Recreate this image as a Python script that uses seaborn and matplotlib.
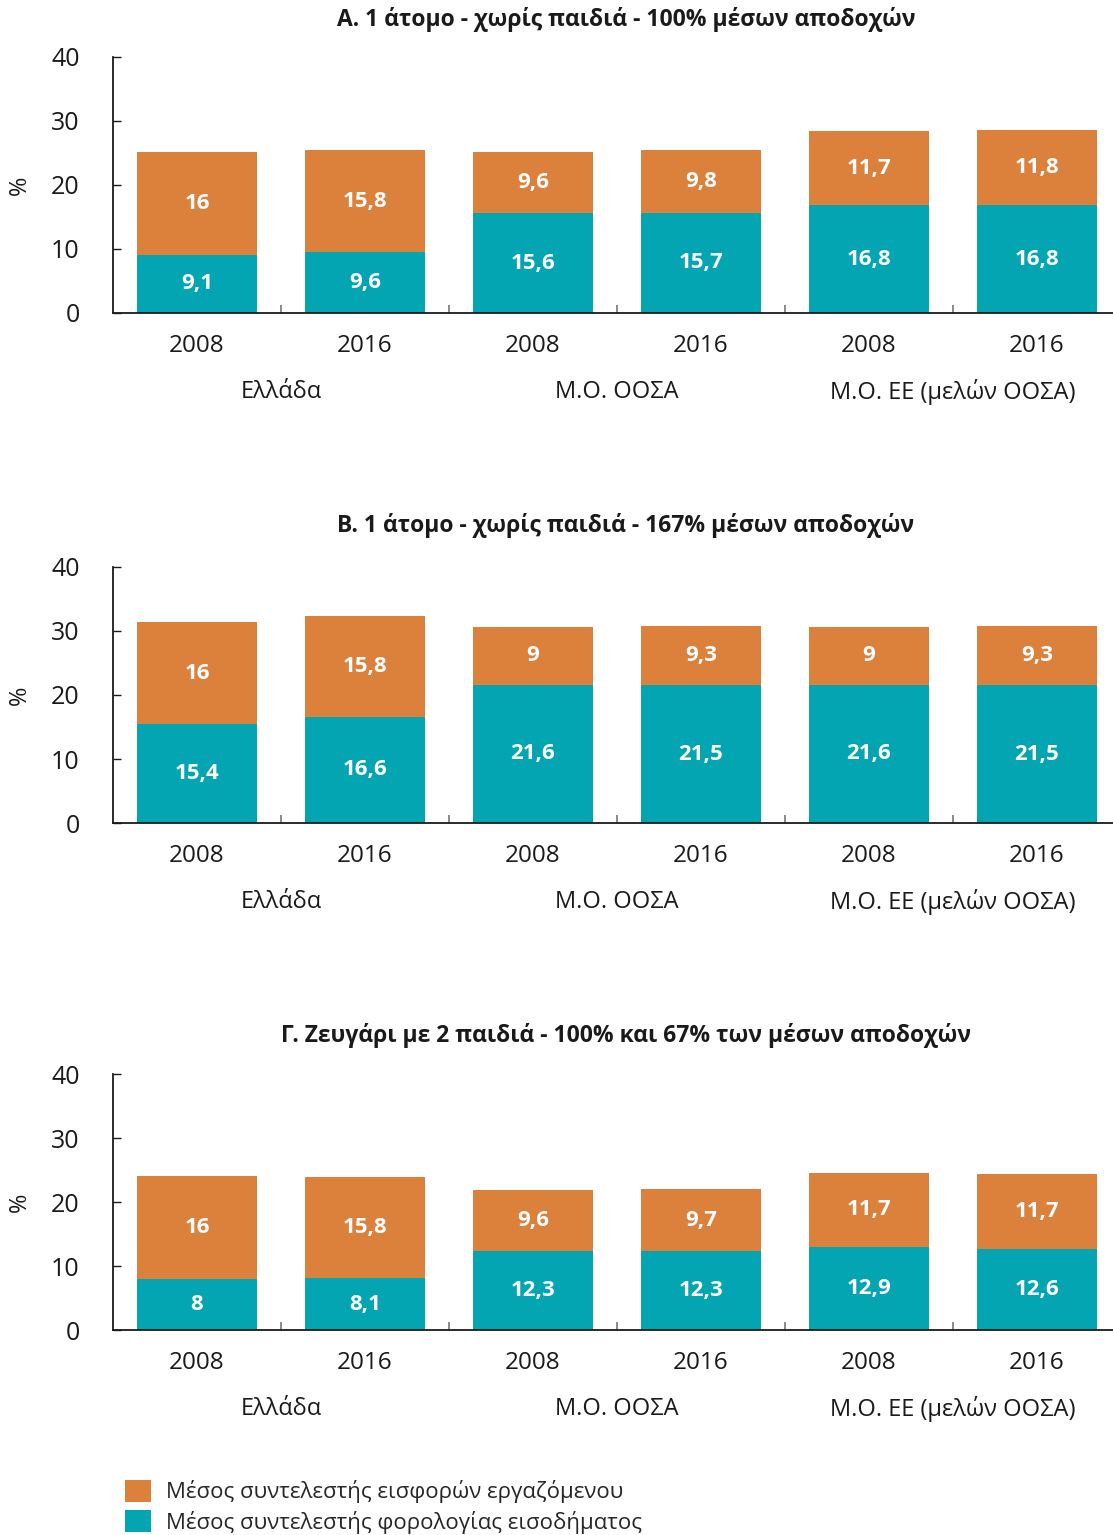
import matplotlib
matplotlib.use("Agg")
import matplotlib.pyplot as plt
import matplotlib.transforms as mtransforms
from matplotlib.patches import Patch
import seaborn as sns
import pandas as pd
import numpy as np

# ---- data ----
years = ["2008", "2016", "2008", "2016", "2008", "2016"]
groups = ["Ελλάδα", "Μ.Ο. ΟΟΣΑ", "Μ.Ο. ΕΕ (μελών ΟΟΣΑ)"]
titles = [
    "Α. 1 άτομο - χωρίς παιδιά - 100% μέσων αποδοχών",
    "Β. 1 άτομο - χωρίς παιδιά - 167% μέσων αποδοχών",
    "Γ. Ζευγάρι με 2 παιδιά - 100% και 67% των μέσων αποδοχών",
]
tax_A = [9.1, 9.6, 15.6, 15.7, 16.8, 16.8]
contrib_A = [16, 15.8, 9.6, 9.8, 11.7, 11.8]
tax_B = [15.4, 16.6, 21.6, 21.5, 21.6, 21.5]
contrib_B = [16, 15.8, 9, 9.3, 9, 9.3]
tax_C = [8, 8.1, 12.3, 12.3, 12.9, 12.6]
contrib_C = [16, 15.8, 9.6, 9.7, 11.7, 11.7]
legend_labels = ["Μέσος συντελεστής εισφορών εργαζόμενου",
                 "Μέσος συντελεστής φορολογίας εισοδήματος"]

ORANGE = "#DB813C"
TEAL = "#02A5B1"

sns.set_theme(style="white")
plt.rcParams["font.family"] = ["Open Sans", "DejaVu Sans"]

W, H = 1113, 1535
fig = plt.figure(figsize=(W / 100, H / 100), dpi=100)

panels = [(tax_A, contrib_A, 313), (tax_B, contrib_B, 823), (tax_C, contrib_C, 1330)]
title_y = [19, 526, 1035]

def fmt(v):
    s = ("%.1f" % v).rstrip("0").rstrip(".")
    return s.replace(".", ",")

for i, (tax, contrib, ybot) in enumerate(panels):
    left_px, right_px = 113, 1121
    ax = fig.add_axes([left_px / W, 1 - ybot / H, (right_px - left_px) / W, 256 / H])
    pos = list(range(6))
    total = [t + c for t, c in zip(tax, contrib)]
    df = pd.DataFrame({"pos": pos, "tax": tax, "contrib": contrib, "total": total})
    sns.barplot(data=df, x="pos", y="total", order=pos, color=ORANGE, saturation=1,
                width=0.72, ax=ax, errorbar=None, linewidth=0)
    sns.barplot(data=df, x="pos", y="tax", order=pos, color=TEAL, saturation=1,
                width=0.72, ax=ax, errorbar=None, linewidth=0)
    for p, t, c in zip(pos, tax, contrib):
        ax.text(p, t / 2, fmt(t), ha="center", va="center", color="white",
                fontsize=16, fontweight="bold")
        ax.text(p, t + c / 2, fmt(c), ha="center", va="center", color="white",
                fontsize=16, fontweight="bold")
    ax.set_xlim(-0.5, 5.5)
    ax.set_ylim(0, 40)
    ax.set_yticks([0, 10, 20, 30, 40])
    ax.set_yticklabels(["0", "10", "20", "30", "40"], fontsize=18)
    ax.set_xticks(pos)
    ax.set_xticklabels(years, fontsize=17.5)
    ax.set_xticks([0.5, 1.5, 2.5, 3.5, 4.5], minor=True)
    ax.tick_params(axis="x", which="major", length=0, pad=15, colors="#1a1a1a")
    ax.tick_params(axis="x", which="minor", length=6, width=1.2, direction="in",
                   color="#777777", bottom=True)
    ax.tick_params(axis="y", which="major", length=6, width=1, direction="in",
                   color="#1a1a1a", pad=24, left=True, labelcolor="#1a1a1a")
    ax.set_xlabel("")
    ax.set_ylabel("%", fontsize=17, color="#1a1a1a")
    ax.yaxis.set_label_coords((32 - left_px) / (right_px - left_px), 0.5)
    for s in ["top", "right"]:
        ax.spines[s].set_visible(False)
    for s in ["left", "bottom"]:
        ax.spines[s].set_color("#1a1a1a")
        ax.spines[s].set_linewidth(1.3)
    trans = mtransforms.blended_transform_factory(ax.transData, ax.transAxes)
    for g, name in enumerate(groups):
        ax.text(2 * g + 0.5, -79 / 256, name, transform=trans, ha="center",
                va="center", fontsize=17, color="#1a1a1a")
    fig.text(626 / W, 1 - title_y[i] / H, titles[i], ha="center", va="center",
             fontsize=16.5, fontweight="bold", color="#1a1a1a")

handles = [Patch(facecolor=ORANGE, edgecolor="none"), Patch(facecolor=TEAL, edgecolor="none")]
fig.legend(handles, legend_labels, loc="lower left",
           bbox_to_anchor=(112 / W, -12 / H), frameon=False, fontsize=16,
           handlelength=1.15, handleheight=1.15, labelspacing=0.3, handletextpad=0.7,
           borderpad=0.1)

fig.savefig("out.png", dpi=100)
